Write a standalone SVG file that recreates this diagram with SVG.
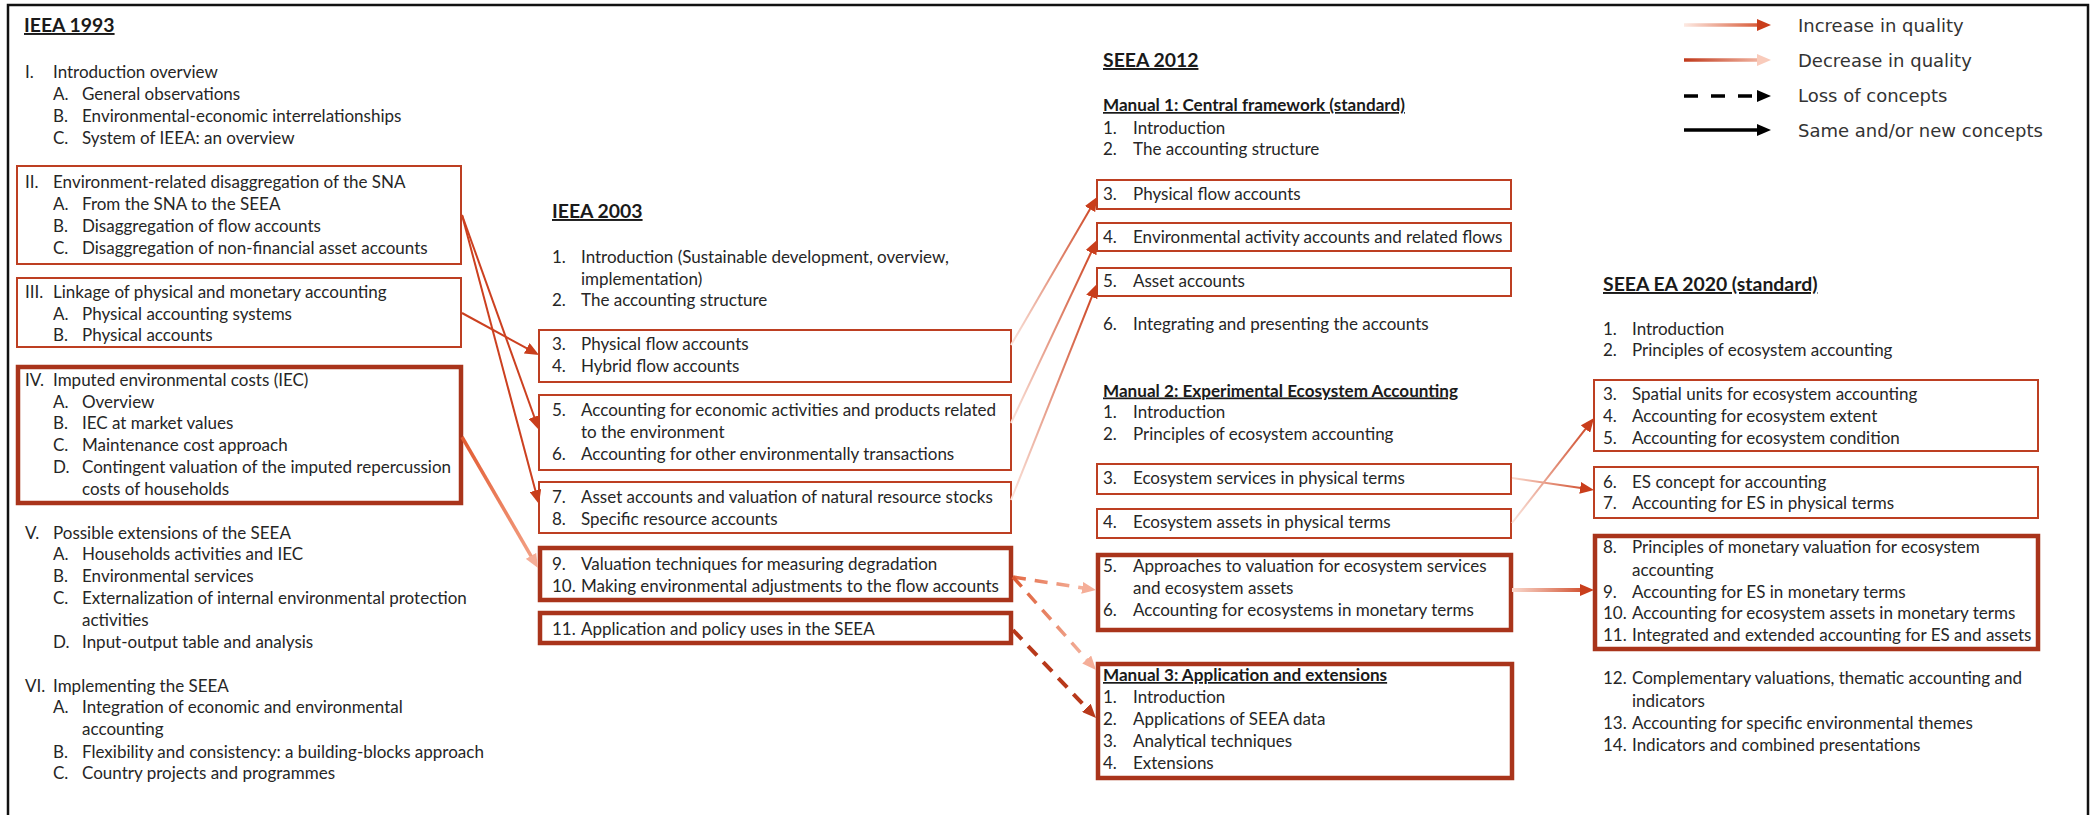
<svg xmlns="http://www.w3.org/2000/svg" width="2098" height="815" viewBox="0 0 2098 815">
<style>
.t{font-family:Lato,"Liberation Sans",sans-serif;font-size:17px;fill:#262626}
.h{font-family:Lato,"Liberation Sans",sans-serif;font-size:19.4px;font-weight:bold;fill:#1a1a1a;text-decoration:underline}
.hs{font-family:Lato,"Liberation Sans",sans-serif;font-size:17.1px;font-weight:bold;fill:#1a1a1a;text-decoration:underline}
.lg{font-family:"DejaVu Sans",sans-serif;font-size:18px;fill:#333}
.box{fill:none;stroke:#BD3F22;stroke-width:2}
.boxk{fill:none;stroke:#A9341B;stroke-width:4.5}
.frame{fill:none;stroke:#111;stroke-width:2.5}
.c{fill:none;stroke:#CC4020;stroke-width:2}
</style>
<defs>
<marker id="mDark" markerUnits="userSpaceOnUse" markerWidth="14" markerHeight="12" viewBox="0 0 14 12" refX="6" refY="6" orient="auto"><path d="M0,0 L14,6 L0,12 z" fill="#C93E1C"/></marker>
<marker id="mLight" markerUnits="userSpaceOnUse" markerWidth="14" markerHeight="12" viewBox="0 0 14 12" refX="6" refY="6" orient="auto"><path d="M0,0 L14,6 L0,12 z" fill="#F5AE98"/></marker>
<marker id="mPale" markerUnits="userSpaceOnUse" markerWidth="14" markerHeight="12" viewBox="0 0 14 12" refX="6" refY="6" orient="auto"><path d="M0,0 L14,6 L0,12 z" fill="#F9CBBB"/></marker>
<marker id="mRed" markerUnits="userSpaceOnUse" markerWidth="14" markerHeight="12" viewBox="0 0 14 12" refX="6" refY="6" orient="auto"><path d="M0,0 L14,6 L0,12 z" fill="#B8391B"/></marker>
<marker id="mBlack" markerUnits="userSpaceOnUse" markerWidth="14" markerHeight="12" viewBox="0 0 14 12" refX="6" refY="6" orient="auto"><path d="M0,0 L14,6 L0,12 z" fill="#000"/></marker>
<linearGradient id="gL1" gradientUnits="userSpaceOnUse" x1="1684" y1="25" x2="1771" y2="25"><stop offset="0" stop-color="#FDEAE3"/><stop offset="1" stop-color="#D2431C"/></linearGradient>
<linearGradient id="gL2" gradientUnits="userSpaceOnUse" x1="1684" y1="60" x2="1771" y2="60"><stop offset="0" stop-color="#C0391B"/><stop offset="1" stop-color="#F8C6B5"/></linearGradient>
<linearGradient id="g4" gradientUnits="userSpaceOnUse" x1="462" y1="437" x2="538" y2="568"><stop offset="0" stop-color="#E25A30"/><stop offset="1" stop-color="#F4A68B"/></linearGradient>
<linearGradient id="g5" gradientUnits="userSpaceOnUse" x1="1011" y1="345" x2="1097" y2="197"><stop offset="0" stop-color="#FBE5DD"/><stop offset="1" stop-color="#CC3F1C"/></linearGradient>
<linearGradient id="g6" gradientUnits="userSpaceOnUse" x1="1011" y1="423" x2="1097" y2="240"><stop offset="0" stop-color="#FBE5DD"/><stop offset="1" stop-color="#CC3F1C"/></linearGradient>
<linearGradient id="g7" gradientUnits="userSpaceOnUse" x1="1011" y1="500" x2="1097" y2="284"><stop offset="0" stop-color="#FBE5DD"/><stop offset="1" stop-color="#CC3F1C"/></linearGradient>
<linearGradient id="g8" gradientUnits="userSpaceOnUse" x1="1013" y1="577" x2="1096" y2="590"><stop offset="0" stop-color="#E46A45"/><stop offset="1" stop-color="#F7C0AE"/></linearGradient>
<linearGradient id="g9" gradientUnits="userSpaceOnUse" x1="1013" y1="577" x2="1096" y2="670"><stop offset="0" stop-color="#DD5A32"/><stop offset="1" stop-color="#F7C0AE"/></linearGradient>
<linearGradient id="g11" gradientUnits="userSpaceOnUse" x1="1512" y1="478" x2="1594" y2="490"><stop offset="0" stop-color="#FAD9CD"/><stop offset="1" stop-color="#CC3F1C"/></linearGradient>
<linearGradient id="g12" gradientUnits="userSpaceOnUse" x1="1512" y1="523" x2="1594" y2="418"><stop offset="0" stop-color="#FBE5DD"/><stop offset="1" stop-color="#CC3F1C"/></linearGradient>
<linearGradient id="g13" gradientUnits="userSpaceOnUse" x1="1512" y1="590" x2="1594" y2="590"><stop offset="0" stop-color="#FAD9CD"/><stop offset="1" stop-color="#CC3F1C"/></linearGradient>
</defs>

<rect x="0" y="0" width="2098" height="815" fill="#fff"/>
<path class="frame" d="M8,815 L8,5 L2088,5 L2088,815"/>

<!-- Legend -->
<g id="legend">
<line x1="1684" y1="25" x2="1763" y2="25" stroke="url(#gL1)" stroke-width="3.5" marker-end="url(#mDark)"/>
<line x1="1684" y1="60" x2="1763" y2="60" stroke="url(#gL2)" stroke-width="3.5" marker-end="url(#mPale)"/>
<line x1="1684" y1="96" x2="1763" y2="96" stroke="#000" stroke-width="3.5" stroke-dasharray="14,13" marker-end="url(#mBlack)"/>
<line x1="1684" y1="130" x2="1763" y2="130" stroke="#000" stroke-width="3.5" marker-end="url(#mBlack)"/>
<text class="lg" x="1798" y="31.5">Increase in quality</text>
<text class="lg" x="1798" y="66.5">Decrease in quality</text>
<text class="lg" x="1798" y="101.5">Loss of concepts</text>
<text class="lg" x="1798" y="136.5">Same and/or new concepts</text>
</g>

<!-- IEEA 1993 -->
<g id="n-1993-title"><text class="h" x="24" y="32">IEEA 1993</text></g>
<g id="n-1993-I">
<text class="t" y="77.5"><tspan x="25">I.</tspan><tspan x="53">Introduction overview</tspan></text>
<text class="t" y="99.5"><tspan x="53">A.</tspan><tspan x="82">General observations</tspan></text>
<text class="t" y="121.5"><tspan x="53">B.</tspan><tspan x="82">Environmental-economic interrelationships</tspan></text>
<text class="t" y="143.5"><tspan x="53">C.</tspan><tspan x="82">System of IEEA: an overview</tspan></text>
</g>
<g id="n-1993-II">
<rect class="box" x="17" y="166" width="444" height="98"/>
<text class="t" y="188.3"><tspan x="25">II.</tspan><tspan x="53">Environment-related disaggregation of the SNA</tspan></text>
<text class="t" y="210"><tspan x="53">A.</tspan><tspan x="82">From the SNA to the SEEA</tspan></text>
<text class="t" y="232"><tspan x="53">B.</tspan><tspan x="82">Disaggregation of flow accounts</tspan></text>
<text class="t" y="253.7"><tspan x="53">C.</tspan><tspan x="82">Disaggregation of non-financial asset accounts</tspan></text>
</g>
<g id="n-1993-III">
<rect class="box" x="17" y="278" width="444" height="69"/>
<text class="t" y="297.5"><tspan x="25">III.</tspan><tspan x="53">Linkage of physical and monetary accounting</tspan></text>
<text class="t" y="319.5"><tspan x="53">A.</tspan><tspan x="82">Physical accounting systems</tspan></text>
<text class="t" y="341"><tspan x="53">B.</tspan><tspan x="82">Physical accounts</tspan></text>
</g>
<g id="n-1993-IV">
<rect class="boxk" x="18" y="367" width="443" height="136"/>
<text class="t" y="385.5"><tspan x="25">IV.</tspan><tspan x="53">Imputed environmental costs (IEC)</tspan></text>
<text class="t" y="407.5"><tspan x="53">A.</tspan><tspan x="82">Overview</tspan></text>
<text class="t" y="429"><tspan x="53">B.</tspan><tspan x="82">IEC at market values</tspan></text>
<text class="t" y="451"><tspan x="53">C.</tspan><tspan x="82">Maintenance cost approach</tspan></text>
<text class="t" y="473"><tspan x="53">D.</tspan><tspan x="82">Contingent valuation of the imputed repercussion</tspan></text>
<text class="t" y="495"><tspan x="82">costs of households</tspan></text>
</g>
<g id="n-1993-V">
<text class="t" y="538.5"><tspan x="25">V.</tspan><tspan x="53">Possible extensions of the SEEA</tspan></text>
<text class="t" y="560"><tspan x="53">A.</tspan><tspan x="82">Households activities and IEC</tspan></text>
<text class="t" y="582"><tspan x="53">B.</tspan><tspan x="82">Environmental services</tspan></text>
<text class="t" y="604"><tspan x="53">C.</tspan><tspan x="82">Externalization of internal environmental protection</tspan></text>
<text class="t" y="626"><tspan x="82">activities</tspan></text>
<text class="t" y="648"><tspan x="53">D.</tspan><tspan x="82">Input-output table and analysis</tspan></text>
</g>
<g id="n-1993-VI">
<text class="t" y="691.7"><tspan x="25">VI.</tspan><tspan x="53">Implementing the SEEA</tspan></text>
<text class="t" y="713"><tspan x="53">A.</tspan><tspan x="82">Integration of economic and environmental</tspan></text>
<text class="t" y="735"><tspan x="82">accounting</tspan></text>
<text class="t" y="757.5"><tspan x="53">B.</tspan><tspan x="82">Flexibility and consistency: a building-blocks approach</tspan></text>
<text class="t" y="779"><tspan x="53">C.</tspan><tspan x="82">Country projects and programmes</tspan></text>
</g>

<!-- IEEA 2003 -->
<g id="n-2003-title"><text class="h" x="552" y="218">IEEA 2003</text></g>
<g id="n-2003-1-2">
<text class="t" y="262.5"><tspan x="552">1.</tspan><tspan x="581">Introduction (Sustainable development, overview,</tspan></text>
<text class="t" y="285"><tspan x="581">implementation)</tspan></text>
<text class="t" y="306"><tspan x="552">2.</tspan><tspan x="581">The accounting structure</tspan></text>
</g>
<g id="n-2003-3-4">
<rect class="box" x="539" y="330" width="472" height="52"/>
<text class="t" y="350"><tspan x="552">3.</tspan><tspan x="581">Physical flow accounts</tspan></text>
<text class="t" y="372"><tspan x="552">4.</tspan><tspan x="581">Hybrid flow accounts</tspan></text>
</g>
<g id="n-2003-5-6">
<rect class="box" x="539" y="395" width="472" height="75"/>
<text class="t" y="416"><tspan x="552">5.</tspan><tspan x="581">Accounting for economic activities and products related</tspan></text>
<text class="t" y="437.7"><tspan x="581">to the environment</tspan></text>
<text class="t" y="460"><tspan x="552">6.</tspan><tspan x="581">Accounting for other environmentally transactions</tspan></text>
</g>
<g id="n-2003-7-8">
<rect class="box" x="539" y="482" width="472" height="51"/>
<text class="t" y="503"><tspan x="552">7.</tspan><tspan x="581">Asset accounts and valuation of natural resource stocks</tspan></text>
<text class="t" y="525"><tspan x="552">8.</tspan><tspan x="581">Specific resource accounts</tspan></text>
</g>
<g id="n-2003-9-10">
<rect class="boxk" x="540" y="548" width="471" height="52"/>
<text class="t" y="570"><tspan x="552">9.</tspan><tspan x="581">Valuation techniques for measuring degradation</tspan></text>
<text class="t" y="592"><tspan x="552">10.</tspan><tspan x="581">Making environmental adjustments to the flow accounts</tspan></text>
</g>
<g id="n-2003-11">
<rect class="boxk" x="540" y="613" width="471" height="30"/>
<text class="t" y="635"><tspan x="552">11.</tspan><tspan x="581">Application and policy uses in the SEEA</tspan></text>
</g>

<!-- SEEA 2012 -->
<g id="n-2012-title"><text class="h" x="1103" y="67">SEEA 2012</text></g>
<g id="n-2012-m1-head">
<text class="hs" x="1103" y="111">Manual 1: Central framework (standard)</text>
<text class="t" y="133.5"><tspan x="1103">1.</tspan><tspan x="1133">Introduction</tspan></text>
<text class="t" y="155"><tspan x="1103">2.</tspan><tspan x="1133">The accounting structure</tspan></text>
</g>
<g id="n-2012-m1-3">
<rect class="box" x="1097" y="180" width="414" height="29"/>
<text class="t" y="199.5"><tspan x="1103">3.</tspan><tspan x="1133">Physical flow accounts</tspan></text>
</g>
<g id="n-2012-m1-4">
<rect class="box" x="1097" y="223" width="414" height="28"/>
<text class="t" y="243"><tspan x="1103">4.</tspan><tspan x="1133">Environmental activity accounts and related flows</tspan></text>
</g>
<g id="n-2012-m1-5">
<rect class="box" x="1097" y="268" width="414" height="28"/>
<text class="t" y="287"><tspan x="1103">5.</tspan><tspan x="1133">Asset accounts</tspan></text>
</g>
<g id="n-2012-m1-6">
<text class="t" y="330"><tspan x="1103">6.</tspan><tspan x="1133">Integrating and presenting the accounts</tspan></text>
</g>
<g id="n-2012-m2-head">
<text class="hs" x="1103" y="396.5">Manual 2: Experimental Ecosystem Accounting</text>
<text class="t" y="418"><tspan x="1103">1.</tspan><tspan x="1133">Introduction</tspan></text>
<text class="t" y="440"><tspan x="1103">2.</tspan><tspan x="1133">Principles of ecosystem accounting</tspan></text>
</g>
<g id="n-2012-m2-3">
<rect class="box" x="1097" y="464" width="414" height="30"/>
<text class="t" y="484"><tspan x="1103">3.</tspan><tspan x="1133">Ecosystem services in physical terms</tspan></text>
</g>
<g id="n-2012-m2-4">
<rect class="box" x="1097" y="509" width="414" height="29"/>
<text class="t" y="528"><tspan x="1103">4.</tspan><tspan x="1133">Ecosystem assets in physical terms</tspan></text>
</g>
<g id="n-2012-m2-5-6">
<rect class="boxk" x="1098" y="555" width="413" height="75"/>
<text class="t" y="571.7"><tspan x="1103">5.</tspan><tspan x="1133">Approaches to valuation for ecosystem services</tspan></text>
<text class="t" y="593.7"><tspan x="1133">and ecosystem assets</tspan></text>
<text class="t" y="616"><tspan x="1103">6.</tspan><tspan x="1133">Accounting for ecosystems in monetary terms</tspan></text>
</g>
<g id="n-2012-m3">
<rect class="boxk" x="1098" y="664" width="414" height="114"/>
<text class="hs" x="1103" y="681">Manual 3: Application and extensions</text>
<text class="t" y="703"><tspan x="1103">1.</tspan><tspan x="1133">Introduction</tspan></text>
<text class="t" y="725"><tspan x="1103">2.</tspan><tspan x="1133">Applications of SEEA data</tspan></text>
<text class="t" y="747"><tspan x="1103">3.</tspan><tspan x="1133">Analytical techniques</tspan></text>
<text class="t" y="768.7"><tspan x="1103">4.</tspan><tspan x="1133">Extensions</tspan></text>
</g>

<!-- SEEA EA 2020 -->
<g id="n-2020-title"><text class="h" x="1603" y="291">SEEA EA 2020 (standard)</text></g>
<g id="n-2020-1-2">
<text class="t" y="334.5"><tspan x="1603">1.</tspan><tspan x="1632">Introduction</tspan></text>
<text class="t" y="356"><tspan x="1603">2.</tspan><tspan x="1632">Principles of ecosystem accounting</tspan></text>
</g>
<g id="n-2020-3-5">
<rect class="box" x="1594" y="380" width="444" height="71"/>
<text class="t" y="400"><tspan x="1603">3.</tspan><tspan x="1632">Spatial units for ecosystem accounting</tspan></text>
<text class="t" y="422"><tspan x="1603">4.</tspan><tspan x="1632">Accounting for ecosystem extent</tspan></text>
<text class="t" y="444.3"><tspan x="1603">5.</tspan><tspan x="1632">Accounting for ecosystem condition</tspan></text>
</g>
<g id="n-2020-6-7">
<rect class="box" x="1594" y="467" width="444" height="51"/>
<text class="t" y="487.7"><tspan x="1603">6.</tspan><tspan x="1632">ES concept for accounting</tspan></text>
<text class="t" y="509.3"><tspan x="1603">7.</tspan><tspan x="1632">Accounting for ES in physical terms</tspan></text>
</g>
<g id="n-2020-8-11">
<rect class="boxk" x="1595" y="536" width="443" height="113"/>
<text class="t" y="553.3"><tspan x="1603">8.</tspan><tspan x="1632">Principles of monetary valuation for ecosystem</tspan></text>
<text class="t" y="576"><tspan x="1632">accounting</tspan></text>
<text class="t" y="597.7"><tspan x="1603">9.</tspan><tspan x="1632">Accounting for ES in monetary terms</tspan></text>
<text class="t" y="619.3"><tspan x="1603">10.</tspan><tspan x="1632">Accounting for ecosystem assets in monetary terms</tspan></text>
<text class="t" y="641"><tspan x="1603">11.</tspan><tspan x="1632">Integrated and extended accounting for ES and assets</tspan></text>
</g>
<g id="n-2020-12-14">
<text class="t" y="684.3"><tspan x="1603">12.</tspan><tspan x="1632">Complementary valuations, thematic accounting and</tspan></text>
<text class="t" y="707"><tspan x="1632">indicators</tspan></text>
<text class="t" y="728.7"><tspan x="1603">13.</tspan><tspan x="1632">Accounting for specific environmental themes</tspan></text>
<text class="t" y="751"><tspan x="1603">14.</tspan><tspan x="1632">Indicators and combined presentations</tspan></text>
</g>

<!-- Connectors -->
<g id="connectors">
<line class="c" x1="462" y1="215" x2="536.3" y2="422.5" marker-end="url(#mDark)"/>
<line class="c" x1="462" y1="215" x2="536.9" y2="496.3" marker-end="url(#mDark)"/>
<line class="c" x1="462" y1="313" x2="532" y2="351.2" marker-end="url(#mDark)"/>
<line x1="462" y1="437" x2="534" y2="561.1" stroke="url(#g4)" stroke-width="3.5" marker-end="url(#mLight)"/>
<line x1="1011" y1="345" x2="1093" y2="203.9" stroke="url(#g5)" stroke-width="2" marker-end="url(#mDark)"/>
<line x1="1011" y1="423" x2="1093.6" y2="247.2" stroke="url(#g6)" stroke-width="2" marker-end="url(#mDark)"/>
<line x1="1011" y1="500" x2="1094" y2="291.4" stroke="url(#g7)" stroke-width="2" marker-end="url(#mDark)"/>
<line x1="1013" y1="577" x2="1088.1" y2="588.8" stroke="url(#g8)" stroke-width="3.5" stroke-dasharray="13,9" marker-end="url(#mLight)"/>
<line x1="1013" y1="577" x2="1090.7" y2="664" stroke="url(#g9)" stroke-width="3.5" stroke-dasharray="13,9" marker-end="url(#mLight)"/>
<line x1="1013" y1="630" x2="1090.5" y2="712.2" stroke="#B8391B" stroke-width="4" stroke-dasharray="13,9" marker-end="url(#mRed)"/>
<line x1="1512" y1="478" x2="1586.1" y2="488.8" stroke="url(#g11)" stroke-width="2" marker-end="url(#mDark)"/>
<line x1="1512" y1="523" x2="1589.1" y2="424.3" stroke="url(#g12)" stroke-width="2" marker-end="url(#mDark)"/>
<line x1="1512" y1="590" x2="1586" y2="590" stroke="url(#g13)" stroke-width="4" marker-end="url(#mDark)"/>
</g>
</svg>
